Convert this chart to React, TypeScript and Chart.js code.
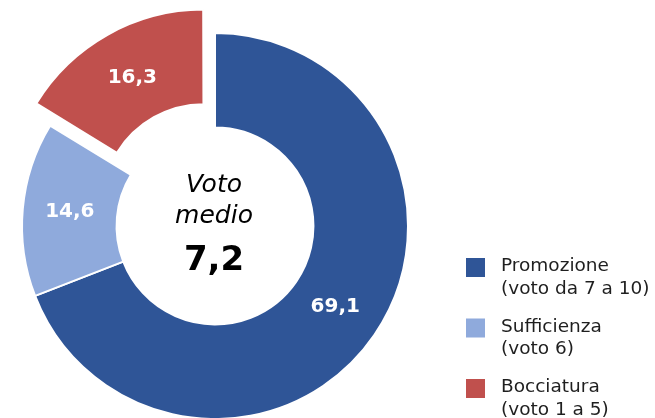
import React, { useEffect, useRef } from "react";
import { Chart, registerables } from "chart.js";

Chart.register(...registerables);

const categories = ["Promozione", "Sufficienza", "Bocciatura"];
const legendSubtitles = ["(voto da 7 a 10)", "(voto 6)", "(voto 1 a 5)"];
const values = [69.1, 14.6, 16.3];
const valueLabels = ["69,1", "14,6", "16,3"];
const colors = ["#2F5597", "#8FAADC", "#C0504D"];
const offsets = [0, 0, 92];
const centerTitle = ["Voto", "medio"];
const centerValue = "7,2";

const labelsPlugin = {
  id: "sliceLabels",
  afterDatasetsDraw(chart: any) {
    const ctx = chart.ctx;
    const meta = chart.getDatasetMeta(0);
    ctx.save();
    ctx.fillStyle = "#ffffff";
    ctx.font = "bold 20px 'DejaVu Sans', Verdana, sans-serif";
    ctx.textAlign = "center";
    ctx.textBaseline = "middle";
    meta.data.forEach((arc: any, i: number) => {
      const p = arc.getProps(["x", "y", "startAngle", "endAngle", "innerRadius", "outerRadius"], true);
      const mid = (p.startAngle + p.endAngle) / 2;
      const r = (p.innerRadius + p.outerRadius) / 2;
      const off = offsets[i] / 4;
      const x = p.x + Math.cos(mid) * (r + off);
      const y = p.y + Math.sin(mid) * (r + off) - 1;
      ctx.fillText(valueLabels[i], x, y);
    });
    // center text
    const a0: any = meta.data[0];
    const cx = a0.x - 1;
    const cy = a0.y;
    ctx.fillStyle = "#000000";
    ctx.textBaseline = "alphabetic";
    ctx.font = "italic 25px 'DejaVu Sans', sans-serif";
    ctx.fillText(centerTitle[0], cx, cy - 34);
    ctx.fillText(centerTitle[1], cx, cy - 3);
    ctx.font = "bold 34px 'DejaVu Sans', Verdana, sans-serif";
    ctx.fillText(centerValue, cx, cy + 44);
    ctx.restore();
  },
};

const legendPlugin = {
  id: "customLegend",
  afterDraw(chart: any) {
    const ctx = chart.ctx;
    ctx.save();
    const boxX = 466;
    const textX = 501;
    const top0 = 258;
    const step = 60.5;
    ctx.font = "18.5px 'DejaVu Sans', Verdana, sans-serif";
    ctx.textAlign = "left";
    ctx.textBaseline = "alphabetic";
    categories.forEach((name, i) => {
      const top = top0 + i * step;
      ctx.fillStyle = colors[i];
      ctx.fillRect(boxX, top, 19, 19);
      ctx.fillStyle = "#1f1f1f";
      ctx.fillText(name, textX, top + 13);
      ctx.fillText(legendSubtitles[i], textX, top + 35.5);
    });
    ctx.restore();
  },
};

export default function App() {
  const canvasRef = useRef<HTMLCanvasElement | null>(null);

  useEffect(() => {
    if (!canvasRef.current) return;
    const chart = new Chart(canvasRef.current, {
      type: "doughnut",
      data: {
        labels: categories,
        datasets: [
          {
            data: values,
            backgroundColor: colors,
            borderColor: "#ffffff",
            borderWidth: 2,
            offset: offsets,
            hoverOffset: 0,
          },
        ],
      },
      options: {
        responsive: false,
        animation: false,
        radius: 193,
        cutout: "51%",
        layout: { padding: { top: 34, right: 225, left: 0, bottom: 0 } },
        plugins: {
          legend: { display: false },
          tooltip: { enabled: false },
        },
      } as any,
      plugins: [labelsPlugin, legendPlugin],
    });
    return () => chart.destroy();
  }, []);

  return (
    <div style={{ position: "absolute", left: 0, top: 0, width: 655, height: 418, background: "#ffffff" }}>
      <canvas ref={canvasRef} width={655} height={418} />
    </div>
  );
}
